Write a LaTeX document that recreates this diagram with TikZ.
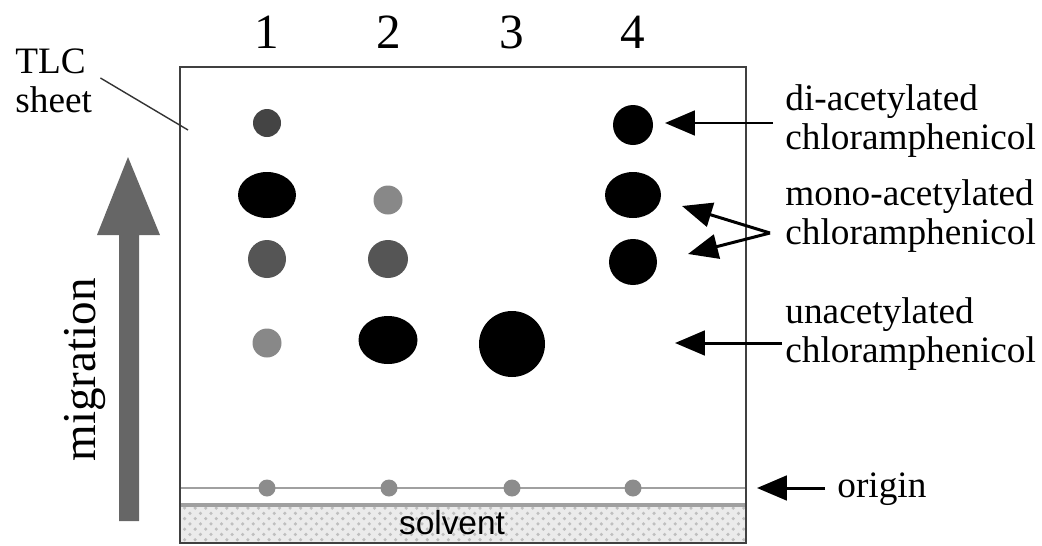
\documentclass[tikz,border=0pt]{standalone}
\usepackage{fontspec}
\setmainfont{Liberation Serif}
\newfontfamily\solventfont{Liberation Sans}
\usetikzlibrary{calc,arrows.meta,patterns}

\definecolor{sheetedge}{HTML}{404040}
\definecolor{spotdark}{HTML}{444444}
\definecolor{spotmid}{HTML}{555555}
\definecolor{spotlight}{HTML}{888888}
\definecolor{originline}{HTML}{A0A0A0}
\definecolor{originspot}{HTML}{8C8C8C}
\definecolor{migrate}{HTML}{666666}

\begin{document}
\begin{tikzpicture}[x=0.01cm, y=-0.01cm,
  lbl/.style={font=\fontsize{10.6pt}{11.1pt}\selectfont, align=left, anchor=west},
  lane/.style={font=\fontsize{14pt}{16pt}\selectfont, anchor=base},
  arr/.style={-{Triangle[length=8.5pt,width=7pt]}, line width=0.85pt}]
  \useasboundingbox (0,0) rectangle (1042,545);

  % solvent band at the foot of the sheet
  \fill[black!8] (181,505) rectangle (745,543);
  \fill[pattern=crosshatch dots, pattern color=black!25] (181,505) rectangle (745,543);
  \draw[originline, line width=0.9pt] (181,505) -- (745,505);
  \node[font={\solventfont\fontsize{9.5pt}{11pt}\selectfont}] (solvent) at (452,523) {solvent};

  % TLC sheet
  \draw[sheetedge, line width=0.65pt] (180,67) rectangle (746,543);

  % origin line and loading spots
  \draw[originline, line width=0.7pt] (181,488) -- (745,488);
  \foreach \x in {267,389,512,633}
    \fill[originspot] (\x,488) circle (8.5);

  % lane numbers
  \foreach \x/\n in {267/1,389/2,512/3,633/4}
    \node[lane] (lane\n) at (\x,48) {\n};

  % lane 1
  \fill[spotdark]  (267,123) circle (14);
  \fill            (267,195) ellipse (29 and 23);
  \fill[spotmid]   (267,259) circle (19);
  \fill[spotlight] (267,343) circle (14.5);
  % lane 2
  \fill[spotlight] (388,200) circle (14.5);
  \fill[spotmid]   (388,259) ellipse (20 and 19);
  \fill            (388,340) ellipse (29.5 and 24);
  % lane 3
  \fill            (512,344) circle (33);
  % lane 4
  \fill            (633,125) circle (20);
  \fill            (633,195) ellipse (28 and 23);
  \fill            (633,262) ellipse (24 and 23);

  % labels
  \node[lbl] (diac)   at (773,121) {di-acetylated\\chloramphenicol};
  \node[lbl] (monoac) at (773,216) {mono-acetylated\\chloramphenicol};
  \node[lbl] (unac)   at (773,334) {unacetylated\\chloramphenicol};
  \node[lbl] (origin) at (825,489) {origin};
  \node[lbl] (tlc)    at (3,81)    {TLC\\sheet};

  % pointers
  \coordinate (diTip) at (665,123);
  \draw[arr] (diac.west |- diTip) -- (diTip);
  \coordinate (monoFork) at ($(monoac.west)+(-3,17)$);
  \coordinate (monoTipA) at (682,206);
  \coordinate (monoTipB) at (688,254);
  \draw[arr] (monoFork) -- (monoTipA);
  \draw[arr] (monoFork) -- (monoTipB);
  \coordinate (unTip) at (675,343);
  \draw[arr] ($(unac.west |- unTip)+(9,0)$) -- (unTip);
  \coordinate (originTip) at (757,488);
  \draw[arr] (origin.west |- originTip) -- (originTip);

  % leader from the label to the sheet
  \coordinate (sheetEdge) at (188,130);
  \draw[line width=0.4pt, black!80] ($(tlc.east)+(-4,-3)$) -- (sheetEdge);

  % migration arrow
  \fill[migrate] (119,521) -- (119,235) -- (97,235) -- (128,157)
    -- (160,235) -- (139,235) -- (139,521) -- cycle;
  \node[font=\fontsize{13.4pt}{15pt}\selectfont, rotate=90, anchor=base] (migration)
    at (95,370) {migration};
\end{tikzpicture}
\end{document}
